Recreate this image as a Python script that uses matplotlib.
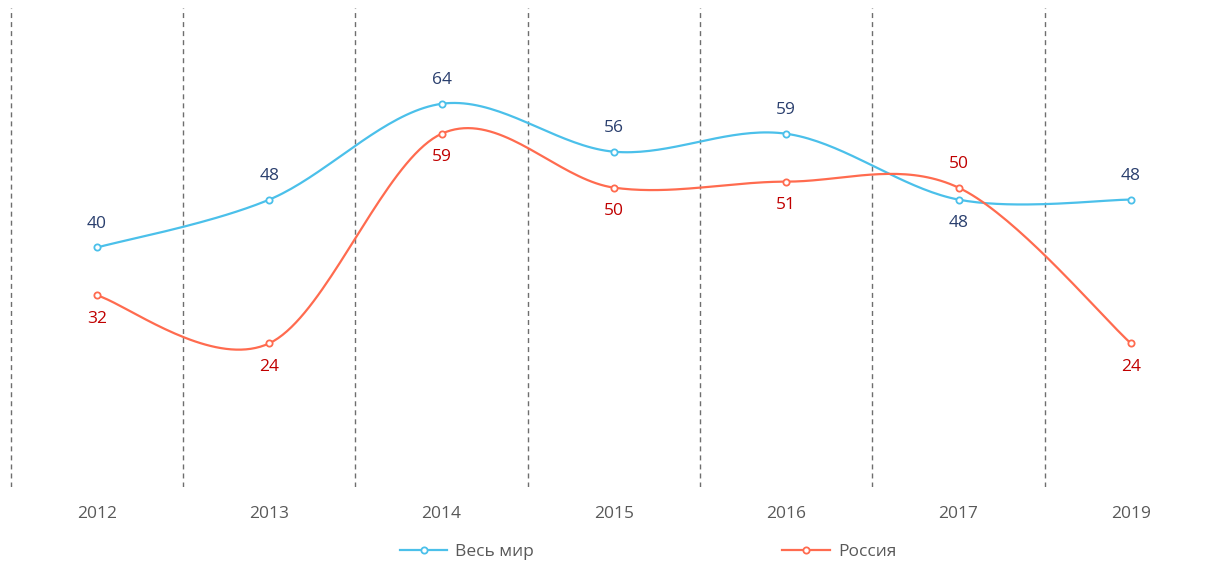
import numpy as np
import matplotlib
matplotlib.use("Agg")
import matplotlib.pyplot as plt

plt.rcParams['font.family'] = ['Open Sans', 'DejaVu Sans']

years = ['2012', '2013', '2014', '2015', '2016', '2017', '2019']
world = [40, 48, 64, 56, 59, 48, 48]
russia = [32, 24, 59, 50, 51, 50, 24]
# label placement: True = above the point
world_above = [True, True, True, True, True, False, True]
russia_above = [False, False, False, False, False, True, False]

BLUE = '#4BC0EA'
RED = '#FF6B4F'
BLUE_TXT = '#2A3F6E'
RED_TXT = '#C00000'
GRAY = '#595959'


def smooth(xs, ys, n=40):
    # excel-like smoothed line: cubic bezier with catmull-rom control points
    xs = np.asarray(xs, float)
    ys = np.asarray(ys, float)
    pts = np.column_stack([xs, ys])
    out = []
    for i in range(len(pts) - 1):
        p0 = pts[i - 1] if i > 0 else pts[i]
        p1 = pts[i]
        p2 = pts[i + 1]
        p3 = pts[i + 2] if i + 2 < len(pts) else pts[i + 1]
        c1 = p1 + (p2 - p0) / 6
        c2 = p2 - (p3 - p1) / 6
        t = np.linspace(0, 1, n)[:, None]
        seg = ((1 - t) ** 3) * p1 + 3 * ((1 - t) ** 2) * t * c1 + 3 * (1 - t) * t ** 2 * c2 + t ** 3 * p2
        out.append(seg if i == 0 else seg[1:])
    out = np.vstack(out)
    return out[:, 0], out[:, 1]


fig = plt.figure(figsize=(12.13, 5.65), dpi=100)
ax = fig.add_axes([0, 78 / 565, 1, 479 / 565])

x = np.arange(len(years))
for xv in np.arange(-0.5, len(years) - 0.5, 1.0):
    ax.axvline(xv, color='#6E6E6E', lw=1.0, ls=(0, (3.6, 2.9)), zorder=1)

for vals, col, name, above, tcol in [(world, BLUE, 'Весь мир', world_above, BLUE_TXT),
                                     (russia, RED, 'Россия', russia_above, RED_TXT)]:
    sx, sy = smooth(x, vals)
    ax.plot(sx, sy, color=col, lw=1.6, zorder=3)
    ax.plot(x, vals, ls='none', marker='o', ms=4.5, mfc='white', mec=col, mew=1.3, zorder=4)
    ax.plot([], [], color=col, lw=1.6, marker='o', ms=4.5, mfc='white', mec=col, mew=1.3, label=name)
    for xi, v, up in zip(x, vals, above):
        ax.annotate(str(v), (xi, v), xytext=(0, 17 if up else -17), textcoords='offset points',
                    ha='center', va='center', fontsize=12.5, color=tcol)

ax.set_xlim(-97 / 172.3, (1213 - 97) / 172.3)
ax.set_ylim(0, 80)
ax.set_xticks(x)
ax.set_xticklabels(years, fontsize=12.5, color=GRAY)
ax.tick_params(axis='x', length=0, pad=14)
ax.set_yticks([])
for s in ax.spines.values():
    s.set_visible(False)

leg = fig.legend(loc='center', bbox_to_anchor=(648 / 1213, 1 - 552 / 565), ncol=2, frameon=False,
                 fontsize=12.5, handlelength=2.75, handletextpad=0.45, columnspacing=14.3)
for t in leg.get_texts():
    t.set_color(GRAY)

fig.savefig('out.png', dpi=100)
